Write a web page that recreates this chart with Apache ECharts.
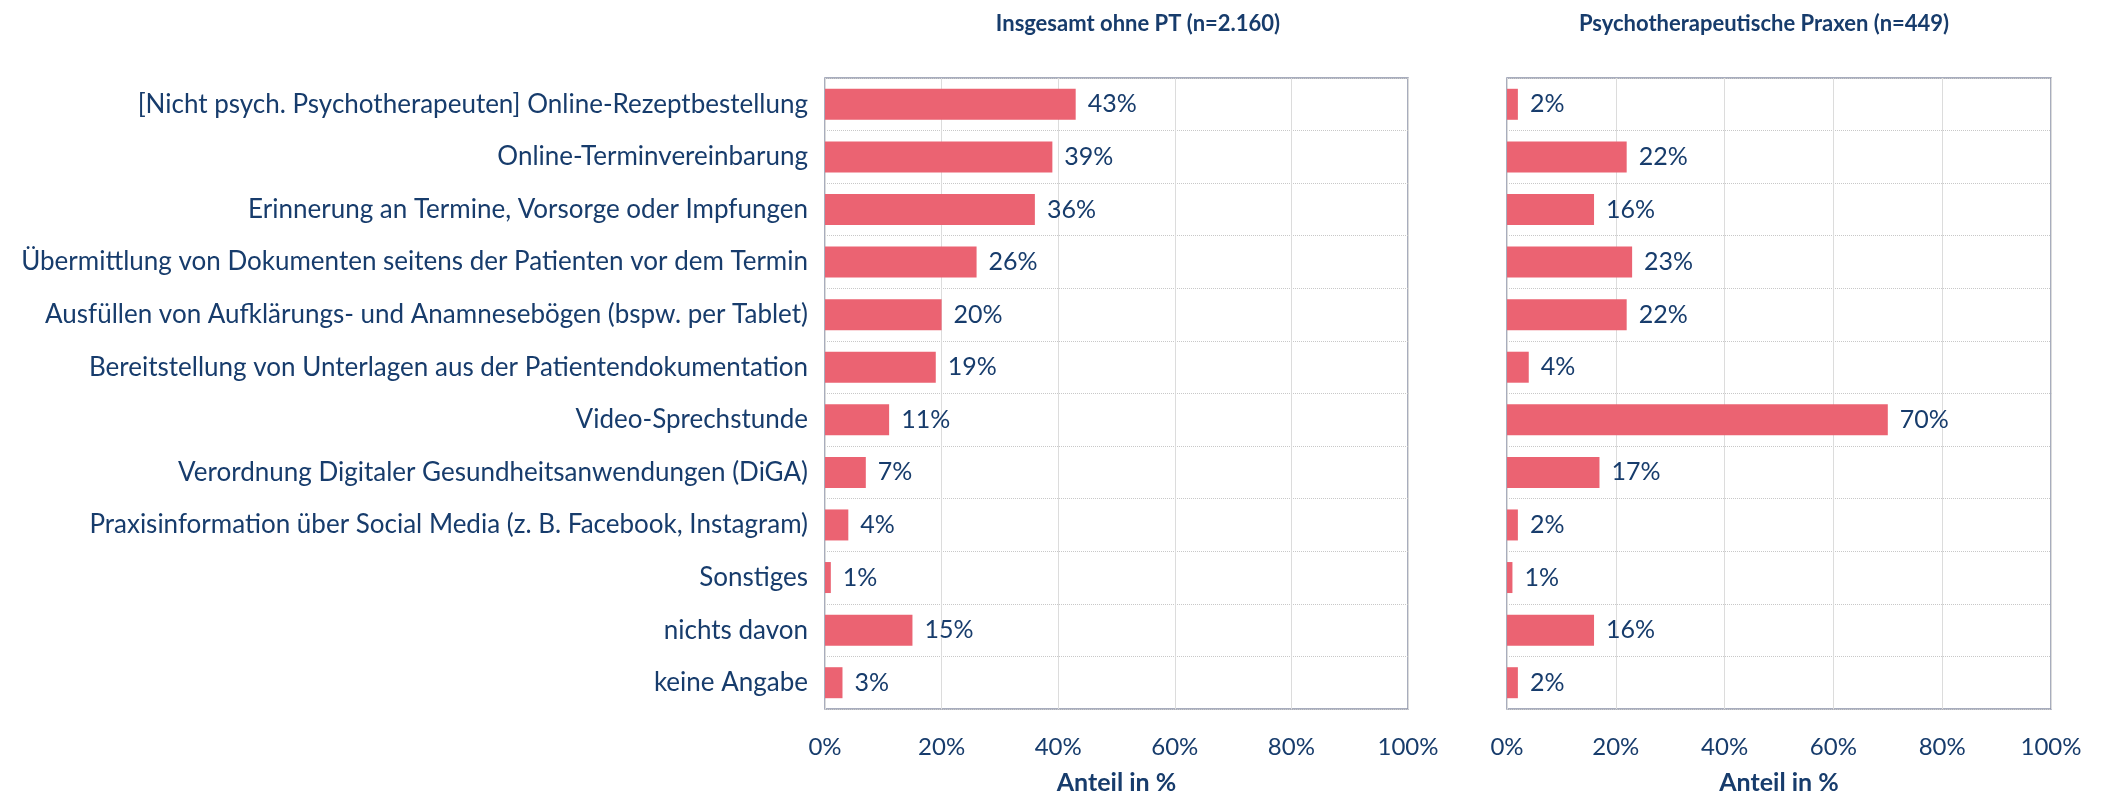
<!DOCTYPE html>
<html>
<head>
<meta charset="utf-8">
<script src="https://cdn.jsdelivr.net/npm/echarts@6/dist/echarts.min.js"></script>
<style>
html,body{margin:0;padding:0;background:#fff;overflow:hidden;}
#main{width:2107px;height:800px;}
</style>
</head>
<body>
<div id="main"></div>
<script>
// Kategorien (von oben nach unten)
var categories = [
    '[Nicht psych. Psychotherapeuten] Online-Rezeptbestellung',
    'Online-Terminvereinbarung',
    'Erinnerung an Termine, Vorsorge oder Impfungen',
    'Übermittlung von Dokumenten seitens der Patienten vor dem Termin',
    'Ausfüllen von Aufklärungs- und Anamnesebögen (bspw. per Tablet)',
    'Bereitstellung von Unterlagen aus der Patientendokumentation',
    'Video-Sprechstunde',
    'Verordnung Digitaler Gesundheitsanwendungen (DiGA)',
    'Praxisinformation über Social Media (z. B. Facebook, Instagram)',
    'Sonstiges',
    'nichts davon',
    'keine Angabe'
];
var insgesamt = [43, 39, 36, 26, 20, 19, 11, 7, 4, 1, 15, 3];
var psychPraxen = [2, 22, 16, 23, 22, 4, 70, 17, 2, 1, 16, 2];
var titles = ['Insgesamt ohne PT (n=2.160)', 'Psychotherapeutische Praxen (n=449)'];
var xTicks = [0, 20, 40, 60, 80, 100];

var navy = '#173c6c';
var barColor = '#eb6372';
var font = 'Lato';

var myChart = echarts.init(document.getElementById('main'));

function xAxisFor(idx){
    return {
        type: 'value',
        gridIndex: idx,
        min: xTicks[0],
        max: xTicks[xTicks.length - 1],
        interval: xTicks[1] - xTicks[0],
        name: 'Anteil in %',
        nameLocation: 'middle',
        nameGap: 61,
        nameTextStyle: {color: navy, fontSize: 25, fontWeight: 'bold', fontFamily: font},
        axisLine: {show: false},
        axisTick: {show: false},
        axisLabel: {color: navy, fontSize: 24, fontFamily: font, margin: 26, formatter: '{value}%'},
        splitLine: {show: true, lineStyle: {color: '#dcdcdc', width: 1}}
    };
}
function yAxisFor(idx, showLabels){
    return {
        type: 'category',
        gridIndex: idx,
        data: categories,
        inverse: true,
        axisLine: {show: false},
        axisTick: {show: false},
        axisLabel: {show: showLabels, color: navy, fontSize: 26, fontFamily: font, margin: 17},
        splitLine: {show: true, lineStyle: {color: '#c8c8c8', type: 'dotted', width: 1}}
    };
}
function seriesFor(idx, data){
    return {
        type: 'bar',
        xAxisIndex: idx,
        yAxisIndex: idx,
        data: data,
        barWidth: 31,
        itemStyle: {color: barColor},
        label: {
            show: true,
            position: 'right',
            distance: 12,
            color: navy,
            fontSize: 25,
            fontFamily: font,
            formatter: '{c}%'
        },
        silent: true
    };
}

option = {
    backgroundColor: '#fff',
    animation: false,
    title: [
        {text: titles[0], left: 1133, top: 8, textAlign: 'center',
         textStyle: {color: navy, fontSize: 22, fontWeight: 'bold', fontFamily: font}},
        {text: titles[1], left: 1759, top: 8, textAlign: 'center',
         textStyle: {color: navy, fontSize: 22, fontWeight: 'bold', fontFamily: font}}
    ],
    grid: [
        {left: 825, top: 78, width: 583, height: 641, show: true, borderColor: '#8c92a8', borderWidth: 1.5, containLabel: false},
        {left: 1507, top: 78, width: 544, height: 641, show: true, borderColor: '#8c92a8', borderWidth: 1.5, containLabel: false}
    ],
    xAxis: [xAxisFor(0), xAxisFor(1)],
    yAxis: [yAxisFor(0, true), yAxisFor(1, false)],
    series: [seriesFor(0, insgesamt), seriesFor(1, psychPraxen)]
};

myChart.setOption(option);
</script>
</body>
</html>
